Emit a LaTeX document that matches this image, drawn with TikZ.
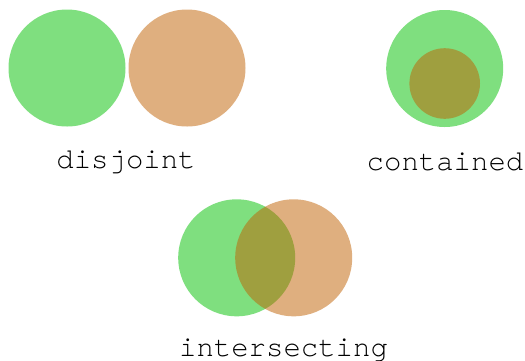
\documentclass[tikz,border=0pt]{standalone}
\usepackage{fontspec}
\setmonofont{TeX Gyre Cursor}
\usetikzlibrary{positioning}
\definecolor{setgreen}{RGB}{0,191,0}
\definecolor{setorange}{RGB}{191,95,0}
\begin{document}
\begin{tikzpicture}[x=1pt,y=-1pt]
            \tikzset{every node/.style={inner sep=0pt},
                setA/.style={circle, minimum size=117pt, fill=setgreen, fill opacity=0.5},
                setB/.style={circle, minimum size=117pt, fill=setorange, fill opacity=0.5},
                subset/.style={circle, minimum size=70.6pt, fill=setorange, fill opacity=0.5},
                caption/.style={anchor=base, font=\ttfamily\fontsize{29}{30}\selectfont}}
            \useasboundingbox (0,0) rectangle (525,360);

            % disjoint
            \node[setA] (d1) at (67,68) {};
            \node[setB] (d2) at (187,68) {};
            \node[caption] (dtext) at (126,168) {disjoint};

            % contained
            \node[setA] (c1) at (444.7,68.5) {};
            \node[subset] (c2) at (444.7,83.5) {};
            \node[caption] (ctext) at (445,170) {contained};

            % intersecting
            \node[setA] (i1) at (236.7,257.8) {};
            \node[setB] (i2) at (293.7,257.8) {};
            \node[caption] (itext) at (283.5,356) {intersecting};
        \end{tikzpicture}
\end{document}
